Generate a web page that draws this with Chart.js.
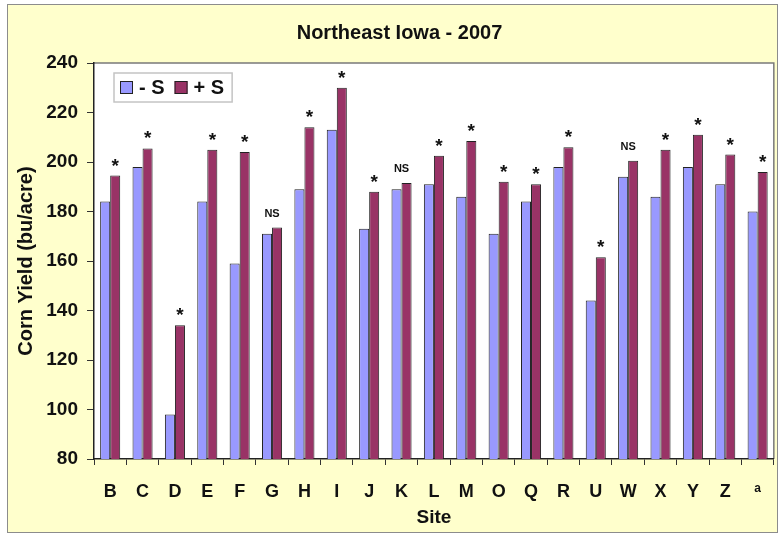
<!DOCTYPE html>
<html>
<head>
<meta charset="utf-8">
<script src="https://cdn.jsdelivr.net/npm/chart.js@4.4.0/dist/chart.umd.min.js"></script>
<style>
  html, body { margin: 0; padding: 0; background: #fff; }
  #frame { position: absolute; left: 7px; top: 4px; width: 769px; height: 527px; background: #ffffcc; border: 1px solid #8c8c8c; }
  canvas { display: block; }
</style>
</head>
<body>
<div id="frame"><canvas id="chart" width="769" height="527"></canvas></div>
<script>
// Corn yield by site, without (-S) and with (+S) sulfur
const sites = ['B', 'C', 'D', 'E', 'F', 'G', 'H', 'I', 'J', 'K', 'L', 'M', 'O', 'Q', 'R', 'U', 'W', 'X', 'Y', 'Z', 'a'];
const yieldNoS = [184, 198, 98, 184, 159, 171, 189, 213, 173, 189, 191, 186, 171, 184, 198, 144, 194, 186, 198, 191, 180];
const yieldPlusS = [194.5, 205.5, 134, 205, 204, 173.5, 214, 230, 188, 191.5, 202.5, 208.5, 192, 191, 206, 161.5, 200.5, 205, 211, 203, 196];
const significance = ['*', '*', '*', '*', '*', 'NS', '*', '*', '*', 'NS', '*', '*', '*', '*', '*', '*', 'NS', '*', '*', '*', '*'];
const yTickLabels = [80, 100, 120, 140, 160, 180, 200, 220, 240];

const FONT = "'Liberation Sans', Arial, sans-serif";
Chart.defaults.font.family = FONT;
Chart.defaults.color = '#111';

// white plot area with grey top/right edges
const plotBackground = {
    id: 'plotBackground',
    beforeDraw(chart) {
        const { ctx, chartArea: a } = chart;
        ctx.save();
        ctx.fillStyle = '#fff';
        ctx.fillRect(a.left, a.top, a.right - a.left, a.bottom - a.top);
        ctx.strokeStyle = '#7a7a7a';
        ctx.lineWidth = 1.5;
        ctx.beginPath();
        ctx.moveTo(a.left, a.top);
        ctx.lineTo(a.right, a.top);
        ctx.lineTo(a.right, a.bottom);
        ctx.stroke();
        ctx.restore();
    }
};

// the title sits a little right of the canvas centre in the original
const titleShift = {
    id: 'titleShift',
    afterLayout(chart) {
        chart.titleBlock.left += 7.5;
        chart.titleBlock.right += 7.5;
    }
};

// * / NS markers above each site
const sigMarks = {
    id: 'sigMarks',
    afterDatasetsDraw(chart) {
        const { ctx } = chart;
        const bars = chart.getDatasetMeta(1).data;
        ctx.save();
        ctx.fillStyle = '#111';
        ctx.textAlign = 'center';
        ctx.textBaseline = 'alphabetic';
        bars.forEach((bar, i) => {
            if (significance[i] === 'NS') {
                ctx.font = `bold 11px ${FONT}`;
                ctx.fillText('NS', chart.scales.x.getPixelForValue(i), bar.y - 11);
            } else {
                ctx.font = `bold 19px ${FONT}`;
                ctx.fillText('*', bar.x, bar.y - 4);
            }
        });
        ctx.restore();
    }
};

// boxed legend inside the plot area
const boxLegend = {
    id: 'boxLegend',
    afterDatasetsDraw(chart) {
        const { ctx, chartArea: a } = chart;
        const x0 = a.left + 20, y0 = a.top + 10;
        const sw = 13, h = 29;
        ctx.save();
        ctx.font = `bold 20px ${FONT}`;
        const items = chart.data.datasets.map(d => ({ label: d.label, color: d.backgroundColor, w: ctx.measureText(d.label).width }));
        const width = 6 + items.reduce((s, it) => s + sw + 6 + it.w, 0) + 10 * (items.length - 1) + 8;
        ctx.fillStyle = '#fff';
        ctx.fillRect(x0, y0, width, h);
        ctx.strokeStyle = '#c4c4c4';
        ctx.lineWidth = 1.5;
        ctx.strokeRect(x0, y0, width, h);
        let x = x0 + 6;
        const cy = y0 + h / 2;
        items.forEach(it => {
            ctx.fillStyle = it.color;
            ctx.fillRect(x, cy - sw / 2, sw, sw);
            ctx.strokeStyle = '#222';
            ctx.lineWidth = 1;
            ctx.strokeRect(x + 0.5, cy - sw / 2 + 0.5, sw - 1, sw - 1);
            x += sw + 6;
            ctx.fillStyle = '#111';
            ctx.textBaseline = 'middle';
            ctx.fillText(it.label, x, cy + 1);
            x += it.w + 10;
        });
        ctx.restore();
    }
};

new Chart(document.getElementById('chart'), {
    type: 'bar',
    data: {
        labels: sites,
        datasets: [
            { label: '- S', data: yieldNoS, backgroundColor: '#9999ff', borderColor: '#222', borderWidth: 1 },
            { label: '+ S', data: yieldPlusS, backgroundColor: '#993366', borderColor: '#222', borderWidth: 1 }
        ]
    },
    options: {
        responsive: false,
        animation: false,
        categoryPercentage: 0.62,
        barPercentage: 1.0,
        layout: { padding: { top: 0, right: 1, bottom: 0, left: 0 } },
        plugins: {
            legend: { display: false },
            tooltip: { enabled: false },
            title: {
                display: true,
                text: 'Northeast Iowa - 2007',
                color: '#111',
                font: { size: 20, weight: 'bold' },
                padding: { top: 16, bottom: 18 }
            }
        },
        scales: {
            x: {
                grid: { offset: true, drawOnChartArea: false, tickLength: 6, tickColor: '#333' },
                border: { color: '#222', width: 1.5 },
                ticks: {
                    color: '#111',
                    padding: 16,
                    autoSkip: false,
                    maxRotation: 0,
                    font: c => ({ size: sites[c.index] === 'a' ? 12 : 18, weight: 'bold' })
                },
                title: {
                    display: true,
                    text: 'Site',
                    color: '#111',
                    font: { size: 19, weight: 'bold' },
                    padding: { top: 4, bottom: 3 }
                },
                afterFit: s => { s.height = 73; }
            },
            y: {
                min: 80,
                max: 240,
                grid: { drawOnChartArea: false, tickLength: 7, tickColor: '#333' },
                border: { color: '#222', width: 1.5 },
                ticks: {
                    stepSize: 10,
                    padding: 9,
                    color: '#111',
                    font: { size: 19, weight: 'bold' },
                    callback: v => yTickLabels.includes(v) ? v : ''
                },
                title: {
                    display: true,
                    text: 'Corn Yield (bu/acre)',
                    color: '#111',
                    font: { size: 20, weight: 'bold' },
                    padding: { top: 6, bottom: 6 }
                },
                afterFit: s => { s.width = 86; }
            }
        }
    },
    plugins: [plotBackground, titleShift, sigMarks, boxLegend]
});
</script>
</body>
</html>
